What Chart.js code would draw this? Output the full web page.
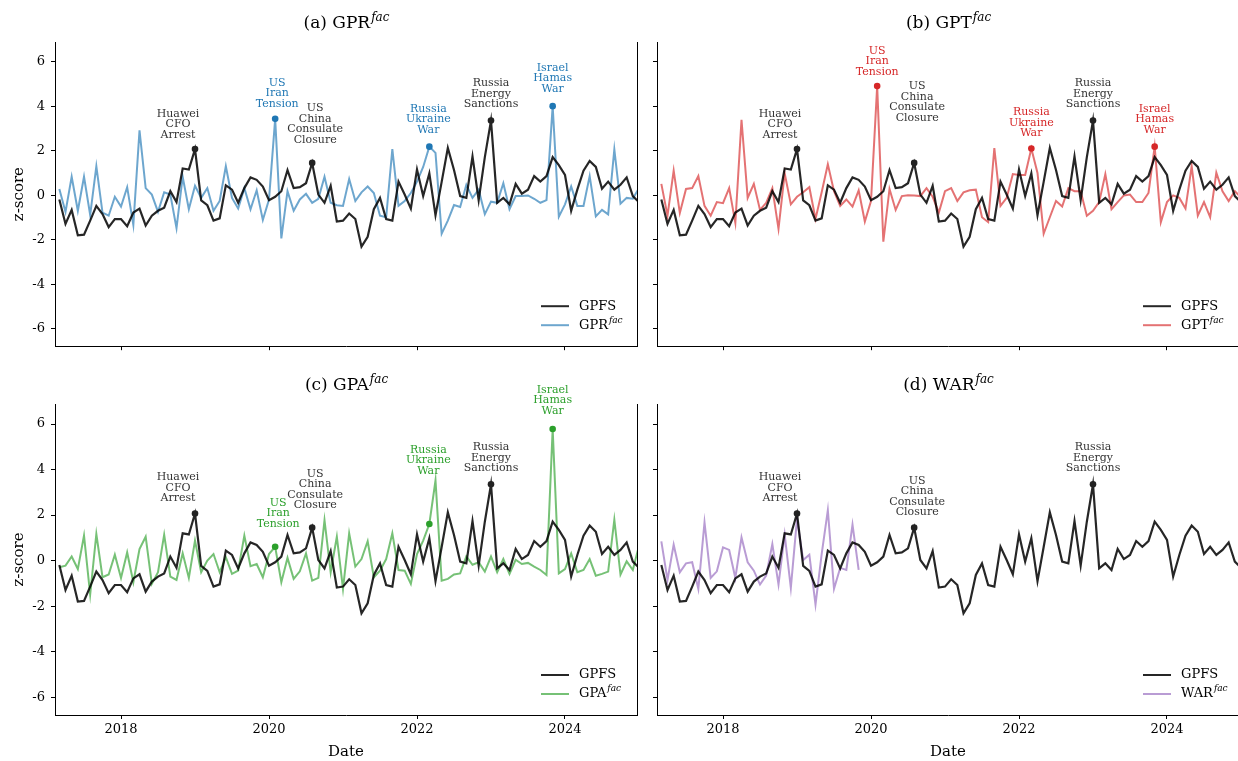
<!DOCTYPE html>
<html>
<head>
<meta charset="utf-8">
<script src="https://cdn.jsdelivr.net/npm/chart.js@4.4.1/dist/chart.umd.min.js"></script>
<style>
html, body { margin: 0; padding: 0; background: #fff; overflow: hidden; width: 1238px; height: 761px; }
canvas { position: absolute; }
</style>
</head>
<body>
<canvas id="pa" width="640" height="360" style="left:0;top:0"></canvas>
<canvas id="pb" width="640" height="360" style="left:602px;top:0"></canvas>
<canvas id="pc" width="640" height="399" style="left:0;top:362px"></canvas>
<canvas id="pd" width="640" height="399" style="left:602px;top:362px"></canvas>
<script>
// monthly observations, Feb 2017 .. Dec 2024 (plotted at month end)
const months = [];
for (let y = 2017; y <= 2024; y++) {
  for (let m = 1; m <= 12; m++) {
    if (y === 2017 && m < 2) continue;
    months.push(y + '-' + String(m).padStart(2, '0'));
  }
}

const gpfs = [
  -0.19, -1.29, -0.66, -1.80, -1.77, -1.14, -0.48, -0.85, -1.43, -1.07, -1.07,
  -1.39, -0.78, -0.60, -1.36, -0.92, -0.70, -0.56, 0.18, -0.31, 1.20, 1.15, 2.07,
  -0.23, -0.45, -1.14, -1.04, 0.44, 0.25, -0.34, 0.32, 0.80, 0.69, 0.39, -0.22,
  -0.07, 0.18, 1.13, 0.32, 0.36, 0.54, 1.45, 0.03, -0.34, 0.42, -1.18, -1.14,
  -0.82, -1.07, -2.31, -1.87, -0.63, -0.12, -1.07, -1.14, 0.61, 0.03, -0.60, 1.15,
  -0.04, 0.98, -0.90, 0.60, 2.12, 1.13, -0.04, -0.12, 1.74, -0.22, 1.71, 3.35,
  -0.34, -0.12, -0.41, 0.51, 0.07, 0.25, 0.86, 0.61, 0.86, 1.71, 1.35, 0.91,
  -0.70, 0.25, 1.10, 1.54, 1.27, 0.29, 0.61, 0.25, 0.47, 0.80, -0.04, -0.31
];
const gpr = [
  0.28, -0.75, 0.83, -0.70, 0.83, -0.89, 1.30, -0.78, -0.92, -0.07, -0.51,
  0.36, -1.33, 2.91, 0.32, 0.03, -0.75, 0.13, 0.03, -1.48, 0.83, -0.63, 0.42,
  -0.12, 0.32, -0.70, -0.26, 1.30, -0.12, -0.60, 0.32, -0.63, 0.22, -1.11, -0.19,
  3.43, -1.94, 0.18, -0.70, -0.19, 0.06, -0.34, -0.16, 0.83, -0.34, -0.45, -0.48,
  0.73, -0.26, 0.13, 0.39, 0.10, -0.92, -0.99, 2.07, -0.48, -0.26, 0.10, 0.61,
  1.27, 2.18, 1.90, -1.73, -1.14, -0.44, -0.53, 0.47, -0.12, 0.25, -0.85, -0.29,
  -0.34, 0.54, -0.63, -0.04, -0.04, -0.01, -0.16, -0.34, -0.22, 4.00, -0.96, -0.41,
  0.39, -0.48, -0.48, 0.86, -0.95, -0.66, -0.86, 2.06, -0.38, -0.12, -0.16, 0.32
];
const gpt = [
  0.51, -0.92, 1.10, -0.80, 0.28, 0.32, 0.86, -0.48, -0.92, -0.31, -0.36,
  0.32, -1.24, 3.39, -0.12, 0.51, -0.66, -0.34, 0.32, -1.51, 0.98, -0.41, -0.07,
  0.13, 0.36, -1.07, 0.13, 1.39, 0.18, -0.48, -0.19, -0.51, 0.22, -1.18, -0.26,
  4.90, -2.09, 0.28, -0.66, -0.04, 0.00, -0.01, -0.04, 0.32, -0.07, -0.78, 0.18,
  0.32, -0.26, 0.13, 0.22, 0.25, -0.99, -1.21, 2.12, -0.48, -0.12, 0.95, 0.91,
  0.91, 2.10, 1.00, -1.73, -0.99, -0.26, -0.51, 0.32, 0.18, 0.18, -0.92, -0.70,
  -0.31, 0.95, -0.63, -0.31, -0.01, 0.03, -0.31, -0.31, 0.10, 2.18, -1.21, -0.31,
  -0.01, -0.12, -0.60, 1.30, -0.92, -0.31, -0.99, 1.01, 0.18, -0.26, 0.18, -0.10
];
const gpa = [
  -0.29, -0.22, 0.18, -0.37, 1.10, -1.49, 1.17, -0.73, -0.61, 0.26, -0.76,
  0.36, -0.95, 0.51, 1.05, -1.02, -0.51, 1.14, -0.70, -0.85, 0.32, -0.76, 0.88,
  -0.51, 0.00, 0.29, -0.51, 0.15, -0.58, -0.44, 1.10, -0.24, -0.15, -0.73, 0.29,
  0.61, -0.95, 0.12, -0.80, -0.47, 0.32, -0.88, -0.76, 1.78, -0.51, 1.05, -1.24,
  1.20, -0.26, 0.07, 0.85, -0.73, -0.44, 0.07, 1.20, -0.41, -0.44, -1.02, 0.29,
  0.88, 1.61, 3.52, -0.88, -0.80, -0.61, -0.56, 0.19, -0.18, -0.07, -0.48, 0.18,
  -0.51, 0.07, -0.58, 0.04, -0.15, -0.10, -0.26, -0.41, -0.63, 5.78, -0.56, -0.37,
  0.32, -0.51, -0.41, 0.07, -0.66, -0.58, -0.48, 1.80, -0.61, -0.03, -0.41, 0.66
];
// WAR factor only available until late 2019
const war = [
  0.85, -0.85, 0.70, -0.51, -0.12, -0.07, -1.24, 1.68, -0.76, -0.47, 0.58,
  0.47, -0.76, 1.02, -0.07, -0.44, -1.05, -0.66, 0.73, -1.05, 1.14, -1.20, 1.83,
  0.03, 0.26, -1.93, 0.29, 2.22, -1.24, -0.32, -0.41, 1.58, -0.41
];

const xTicks = [2018, 2020, 2022, 2024];
const yTicks = [-6, -4, -2, 0, 2, 4, 6];

const FONT = "'DejaVu Serif', serif";

const xVal = months.map(s => {
  const [y, m] = s.split('-').map(Number);
  return y + m / 12;
});
const pts = arr => xVal.map((x, i) => ({ x: x, y: i < arr.length ? arr[i] : null }));

const deco = {
  id: 'deco',
  afterDatasetsDraw(chart, args, o) {
    const ctx = chart.ctx, ca = chart.chartArea;
    const xs = chart.scales.x, ys = chart.scales.y;
    ctx.save();
    // right spine
    ctx.strokeStyle = '#000';
    ctx.lineWidth = 1;
    ctx.beginPath();
    ctx.moveTo(Math.round(ca.right) + 0.5, ca.top);
    ctx.lineTo(Math.round(ca.right) + 0.5, ca.bottom + 0.5);
    ctx.stroke();

    // event annotations
    o.events.forEach(ev => {
      const i = months.indexOf(ev.month);
      const src = ev.src === 'gpfs' ? gpfs : o.fac;
      const px = xs.getPixelForValue(xVal[i]);
      const py = ys.getPixelForValue(src[i]);
      const col = ev.src === 'gpfs' ? '#222222' : o.solid;
      ctx.fillStyle = col;
      ctx.beginPath();
      ctx.arc(px, py, 3.3, 0, Math.PI * 2);
      ctx.fill();
      ctx.fillStyle = ev.src === 'gpfs' ? '#333333' : o.solid;
      ctx.font = '11px ' + FONT;
      ctx.textAlign = 'center';
      ctx.textBaseline = 'middle';
      const n = ev.text.length;
      ev.text.forEach((t, k) => {
        ctx.fillText(t, px + ev.dx, py + ev.dy - (n - 1 - k) * 10.5);
      });
    });

    // title with superscript
    const cx = (ca.left + ca.right) / 2;
    ctx.fillStyle = '#000';
    ctx.textBaseline = 'alphabetic';
    ctx.textAlign = 'left';
    ctx.font = '17px ' + FONT;
    const w1 = ctx.measureText(o.title).width;
    ctx.font = 'italic 12px ' + FONT;
    const w2 = ctx.measureText('fac').width;
    let tx = cx - (w1 + w2) / 2;
    ctx.font = '17px ' + FONT;
    ctx.fillText(o.title, tx, 28);
    ctx.font = 'italic 12px ' + FONT;
    ctx.fillText('fac', tx + w1 + 1, 21);

    // legend (lower right)
    const rows = [
      { base: 'GPFS', sup: '', color: 'rgba(0,0,0,0.85)' },
      { base: o.facName, sup: 'fac', color: o.light }
    ];
    rows.forEach((r, k) => {
      const ly = ca.bottom - 40 + k * 19;
      ctx.strokeStyle = r.color;
      ctx.lineWidth = 2;
      ctx.beginPath();
      ctx.moveTo(ca.right - 96, ly);
      ctx.lineTo(ca.right - 68, ly);
      ctx.stroke();
      ctx.fillStyle = '#000';
      ctx.textBaseline = 'middle';
      ctx.font = '13px ' + FONT;
      ctx.fillText(r.base, ca.right - 58, ly);
      if (r.sup) {
        const bw = ctx.measureText(r.base).width;
        ctx.font = 'italic 9px ' + FONT;
        ctx.fillText(r.sup, ca.right - 58 + bw + 1, ly - 5);
      }
    });
    ctx.restore();
  }
};

function makePanel(id, fac, solid, light, title, facName, bottom, left, events) {
  new Chart(document.getElementById(id), {
    type: 'line',
    data: {
      datasets: [
        { data: pts(gpfs), borderColor: 'rgba(0,0,0,0.85)', borderWidth: 2.2, pointRadius: 0, tension: 0 },
        { data: pts(fac), borderColor: light, borderWidth: 2, pointRadius: 0, tension: 0, spanGaps: false }
      ]
    },
    options: {
      responsive: false,
      animation: false,
      events: [],
      layout: { padding: { top: 42, right: 3, left: 0, bottom: 0 } },
      plugins: {
        legend: { display: false },
        tooltip: { enabled: false },
        deco: { fac: fac, solid: solid, light: light, title: title, facName: facName, events: events }
      },
      scales: {
        x: {
          type: 'linear',
          min: 2017.108,
          max: 2024.973,
          afterBuildTicks: s => { s.ticks = xTicks.map(v => ({ value: v })); },
          afterFit: s => { s.height = bottom ? 46 : 7; },
          ticks: {
            color: bottom ? '#000' : 'rgba(0,0,0,0)',
            font: { family: FONT, size: 13 },
            padding: 3,
            maxRotation: 0,
            callback: v => String(v)
          },
          grid: { drawOnChartArea: false, drawTicks: true, tickLength: 4, color: '#000' },
          border: { display: true, color: '#000', width: 1 },
          title: {
            display: bottom,
            text: 'Date',
            color: '#000',
            font: { family: FONT, size: 15 },
            padding: { top: 0, bottom: 0 }
          }
        },
        y: {
          min: -6.78,
          max: 6.88,
          afterBuildTicks: s => { s.ticks = yTicks.map(v => ({ value: v })); },
          afterFit: s => { s.width = 55; },
          ticks: {
            color: left ? '#000' : 'rgba(0,0,0,0)',
            font: { family: FONT, size: 13 },
            padding: 6
          },
          grid: { drawOnChartArea: false, drawTicks: true, tickLength: 4, color: '#000' },
          border: { display: true, color: '#000', width: 1 },
          title: {
            display: left,
            text: 'z-score',
            color: '#000',
            font: { family: FONT, size: 15 },
            padding: { top: 10, bottom: 4 }
          }
        }
      }
    },
    plugins: [deco]
  });
}

makePanel('pa', gpr, '#1f77b4', 'rgba(31,119,180,0.65)', '(a) GPR', 'GPR', false, true, [
  { src: 'gpfs', month: '2018-12', text: ['Huawei', 'CFO', 'Arrest'], dx: -17, dy: -14 },
  { src: 'fac', month: '2020-01', text: ['US', 'Iran', 'Tension'], dx: 2, dy: -15 },
  { src: 'gpfs', month: '2020-07', text: ['US', 'China', 'Consulate', 'Closure'], dx: 3, dy: -23 },
  { src: 'fac', month: '2022-02', text: ['Russia', 'Ukraine', 'War'], dx: -1, dy: -17 },
  { src: 'gpfs', month: '2022-12', text: ['Russia', 'Energy', 'Sanctions'], dx: 0, dy: -16 },
  { src: 'fac', month: '2023-10', text: ['Israel', 'Hamas', 'War'], dx: 0, dy: -17 }
]);
makePanel('pb', gpt, '#d62728', 'rgba(214,39,40,0.65)', '(b) GPT', 'GPT', false, false, [
  { src: 'gpfs', month: '2018-12', text: ['Huawei', 'CFO', 'Arrest'], dx: -17, dy: -14 },
  { src: 'fac', month: '2020-01', text: ['US', 'Iran', 'Tension'], dx: 0, dy: -14 },
  { src: 'gpfs', month: '2020-07', text: ['US', 'China', 'Consulate', 'Closure'], dx: 3, dy: -45 },
  { src: 'fac', month: '2022-02', text: ['Russia', 'Ukraine', 'War'], dx: 0, dy: -15 },
  { src: 'gpfs', month: '2022-12', text: ['Russia', 'Energy', 'Sanctions'], dx: 0, dy: -16 },
  { src: 'fac', month: '2023-10', text: ['Israel', 'Hamas', 'War'], dx: 0, dy: -17 }
]);
makePanel('pc', gpa, '#2ca02c', 'rgba(44,160,44,0.65)', '(c) GPA', 'GPA', true, true, [
  { src: 'gpfs', month: '2018-12', text: ['Huawei', 'CFO', 'Arrest'], dx: -17, dy: -15 },
  { src: 'fac', month: '2020-01', text: ['US', 'Iran', 'Tension'], dx: 3, dy: -23 },
  { src: 'gpfs', month: '2020-07', text: ['US', 'China', 'Consulate', 'Closure'], dx: 3, dy: -22 },
  { src: 'fac', month: '2022-02', text: ['Russia', 'Ukraine', 'War'], dx: -1, dy: -53 },
  { src: 'gpfs', month: '2022-12', text: ['Russia', 'Energy', 'Sanctions'], dx: 0, dy: -16 },
  { src: 'fac', month: '2023-10', text: ['Israel', 'Hamas', 'War'], dx: 0, dy: -18 }
]);
makePanel('pd', war, '#9467bd', 'rgba(148,103,189,0.65)', '(d) WAR', 'WAR', true, false, [
  { src: 'gpfs', month: '2018-12', text: ['Huawei', 'CFO', 'Arrest'], dx: -17, dy: -15 },
  { src: 'gpfs', month: '2020-07', text: ['US', 'China', 'Consulate', 'Closure'], dx: 3, dy: -15 },
  { src: 'gpfs', month: '2022-12', text: ['Russia', 'Energy', 'Sanctions'], dx: 0, dy: -16 }
]);
</script>
</body>
</html>
